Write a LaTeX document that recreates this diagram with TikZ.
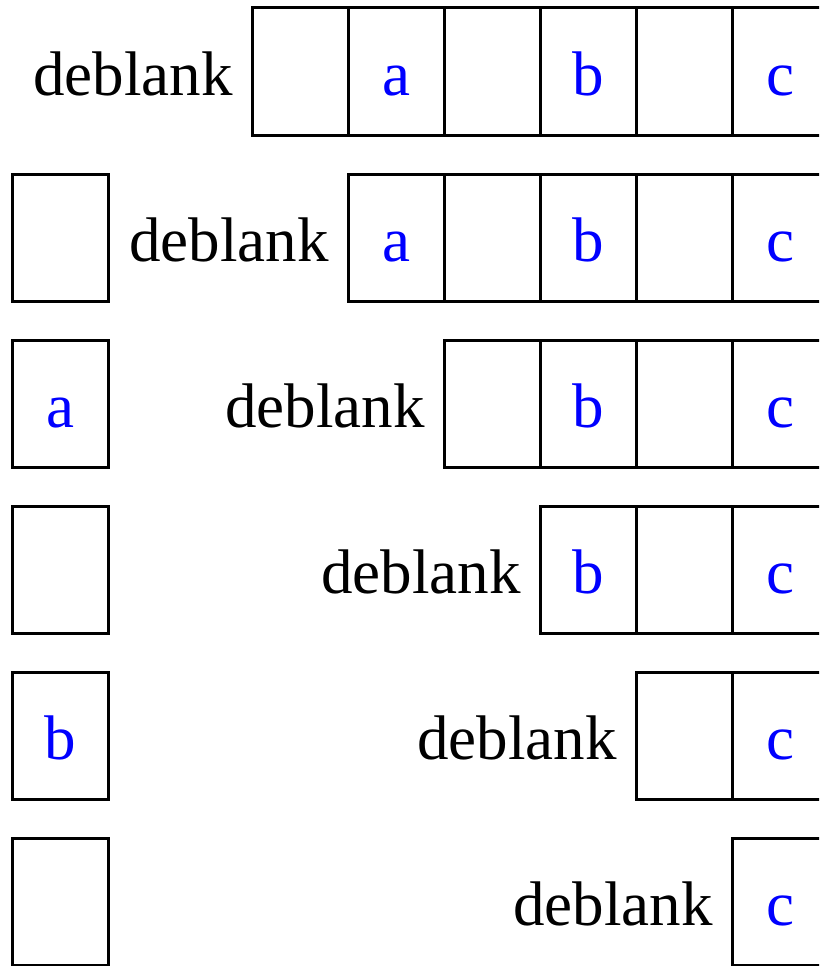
\documentclass[tikz,border=0pt]{standalone}
\usepackage{fontspec}
\setmainfont{Liberation Serif}
\tikzset{
  cell/.style={draw, line width=3pt, minimum width=96pt, minimum height=127pt,
    inner sep=0pt, outer sep=0pt, anchor=north west, text=blue,
    text height=47pt, text depth=0pt, font=\fontsize{63}{63}\selectfont},
  lbl/.style={anchor=base east, inner sep=0pt, font=\fontsize{63}{63}\selectfont}
}
\begin{document}
\begin{tikzpicture}[x=1pt, y=-1pt]
\useasboundingbox (0,0) rectangle (819,966);
\clip (0,0) rectangle (819,966);
% string being consumed, one row per step
\foreach \r in {0,...,5} {
  \pgfmathsetmacro\rowtop{8+166*\r}
  \node[lbl] (lbl\r) at (252+96*\r-19, \rowtop+87) {deblank};
  \foreach \c/\t in {0/,1/a,2/,3/b,4/,5/c} {
    \ifnum\c<\r\else
      \node[cell] (c\r\c) at (252+96*\c, \rowtop) {\t};
    \fi
  }
}
% character handed out
\foreach \r/\t in {1/,2/a,3/,4/b,5/}
  \node[cell] (out\r) at (12, 8+166*\r) {\t};
\end{tikzpicture}
\end{document}
